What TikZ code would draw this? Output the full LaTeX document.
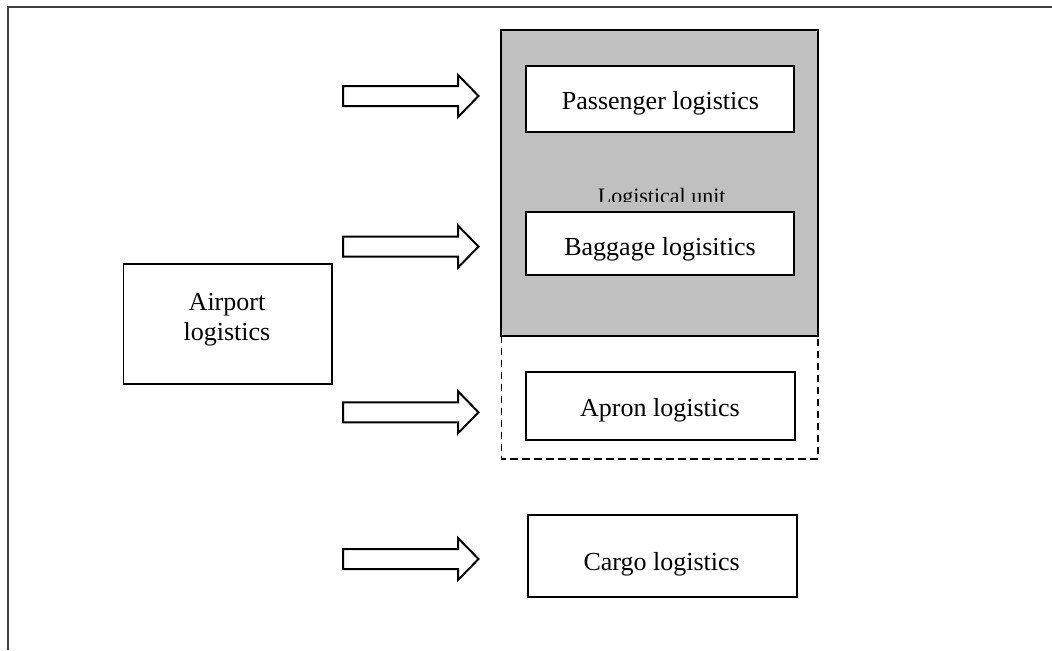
\documentclass[tikz,border=0pt]{standalone}
\usepackage{fontspec}
\setmainfont{Liberation Serif}
\definecolor{unitgrey}{HTML}{C0C0C0}
\definecolor{framegrey}{HTML}{404040}
\begin{document}
\begin{tikzpicture}[x=0.75pt,y=-0.75pt,
  box/.style={draw=black,line width=1.35pt,fill=white,inner sep=0pt,outer sep=0pt},
  lbl/.style={font=\fontsize{19.5}{23}\selectfont,anchor=base,inner sep=0pt},
  small/.style={font=\fontsize{16.5}{19}\selectfont,anchor=base,inner sep=0pt},
  blockarrow/.pic={\draw[line width=1.5pt,fill=white,line join=miter]
      (0,-10) -- (115,-10) -- (115,-21) -- (135.5,0) -- (115,21) -- (115,10) -- (0,10) -- cycle;}]
\useasboundingbox (0,0) rectangle (1052,650);

% page frame (top and left edges only)
\coordinate (ftr) at (1052,6.5);
\coordinate (ftl) at (8,6.5);
\coordinate (fbl) at (8,650);
\draw[framegrey,line width=1.5pt] (ftr) -- (ftl) -- (fbl);

% shaded logistical unit and the dashed apron zone below it
\node (zone) [inner sep=0pt,outer sep=0pt,minimum width=237.4pt,minimum height=92.4pt] at (659.75,397.1) {};
\draw[line width=1.3pt,dash pattern=on 5.5pt off 3.5pt]
  (zone.north west) -- (zone.south west) -- (zone.south east) -- (zone.north east);
\node (unit) [draw=black,fill=unitgrey,line width=1.5pt,inner sep=0pt,outer sep=0pt,
  minimum width=237.4pt,minimum height=229.5pt] at (659.75,182.5) {};

% boxes
\node (airport)   [box,minimum width=156.4pt,minimum height=90pt]   at (227.75,324) {};
\node (passenger) [box,minimum width=201pt,minimum height=49.7pt]   at (660,98.85) {};
\node (baggage)   [box,minimum width=201pt,minimum height=47.25pt]  at (660,243.8) {};
\node (apron)     [box,minimum width=202pt,minimum height=51pt]     at (660.35,406) {};
\node (cargo)     [box,minimum width=201.7pt,minimum height=61.3pt] at (662.2,555.85) {};

% labels
\node (airport-l1)   [lbl] at (227,310)   {Airport};
\node (airport-l2)   [lbl] at (227,340.7) {logistics};
\node (passenger-l)  [lbl] at (660.5,109.3) {Passenger logistics};
\node (baggage-l)    [lbl] at (660,255)   {Baggage logisitics};
\node (apron-l)      [lbl] at (660,416.7) {Apron logistics};
\node (cargo-l)      [lbl] at (661.7,570.7) {Cargo logistics};
\begin{scope}
  \clip (501.5,29.5) rectangle (818,201.6);
  \node (unit-l) [small] at (661.7,203) {Logistical unit};
\end{scope}

% block arrows
\pic at (343,96)    {blockarrow};
\pic at (343,246.6) {blockarrow};
\pic at (343,412.3) {blockarrow};
\pic at (343,559)   {blockarrow};
\end{tikzpicture}
\end{document}
